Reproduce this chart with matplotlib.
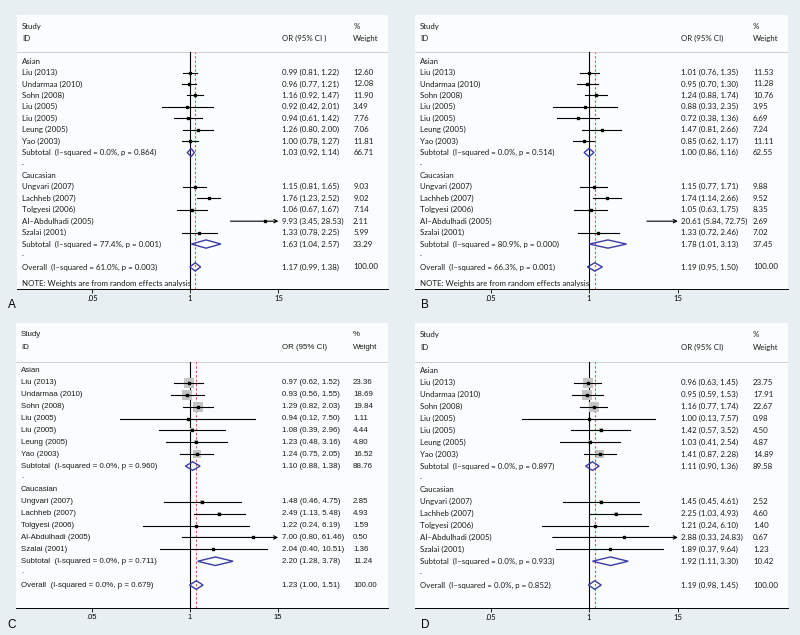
"""Forest plots A-D: OR by ethnicity subgroup (Asian / Caucasian)
"""
import matplotlib.pyplot as plt
from matplotlib.transforms import blended_transform_factory
from matplotlib.ticker import NullLocator

names_asian = ["Liu (2013)", "Undarmaa (2010)", "Sohn (2008)", "Liu (2005)",
               "Liu (2005)", "Leung (2005)", "Yao (2003)"]
names_cauc = ["Ungvari (2007)", "Lachheb (2007)", "Tolgyesi (2006)",
              "Al-Abdulhadi (2005)", "Szalai (2001)"]

# panel A
a_or_asian = [0.99, 0.96, 1.16, 0.92, 0.94, 1.26, 1.00]
a_lo_asian = [0.81, 0.77, 0.92, 0.42, 0.61, 0.80, 0.78]
a_hi_asian = [1.22, 1.21, 1.47, 2.01, 1.42, 2.00, 1.27]
a_w_asian = [12.60, 12.08, 11.90, 3.49, 7.76, 7.06, 11.81]
a_or_cauc = [1.15, 1.76, 1.06, 9.93, 1.33]
a_lo_cauc = [0.81, 1.23, 0.67, 3.45, 0.78]
a_hi_cauc = [1.65, 2.52, 1.67, 28.53, 2.25]
a_w_cauc = [9.03, 9.02, 7.14, 2.11, 5.99]
a_sub = [(1.03, 0.92, 1.14, 66.71, "0.0%", "0.864"),
         (1.63, 1.04, 2.57, 33.29, "77.4%", "0.001")]
a_overall = (1.17, 0.99, 1.38, 100.00, "61.0%", "0.003")

# panel B
b_or_asian = [1.01, 0.95, 1.24, 0.88, 0.72, 1.47, 0.85]
b_lo_asian = [0.76, 0.70, 0.88, 0.33, 0.38, 0.81, 0.62]
b_hi_asian = [1.35, 1.30, 1.74, 2.35, 1.36, 2.66, 1.17]
b_w_asian = [11.53, 11.28, 10.76, 3.95, 6.69, 7.24, 11.11]
b_or_cauc = [1.15, 1.74, 1.05, 20.61, 1.33]
b_lo_cauc = [0.77, 1.14, 0.63, 5.84, 0.72]
b_hi_cauc = [1.71, 2.66, 1.75, 72.75, 2.46]
b_w_cauc = [9.88, 9.52, 8.35, 2.69, 7.02]
b_sub = [(1.00, 0.86, 1.16, 62.55, "0.0%", "0.514"),
         (1.78, 1.01, 3.13, 37.45, "80.9%", "0.000")]
b_overall = (1.19, 0.95, 1.50, 100.00, "66.3%", "0.001")

# panel C
c_or_asian = [0.97, 0.93, 1.29, 0.94, 1.08, 1.23, 1.24]
c_lo_asian = [0.62, 0.56, 0.82, 0.12, 0.39, 0.48, 0.75]
c_hi_asian = [1.52, 1.55, 2.03, 7.50, 2.96, 3.16, 2.05]
c_w_asian = [23.36, 18.69, 19.84, 1.11, 4.44, 4.80, 16.52]
c_or_cauc = [1.48, 2.49, 1.22, 7.00, 2.04]
c_lo_cauc = [0.46, 1.13, 0.24, 0.80, 0.40]
c_hi_cauc = [4.75, 5.48, 6.19, 61.46, 10.51]
c_w_cauc = [2.85, 4.93, 1.59, 0.50, 1.36]
c_sub = [(1.10, 0.88, 1.38, 88.76, "0.0%", "0.960"),
         (2.20, 1.28, 3.78, 11.24, "0.0%", "0.711")]
c_overall = (1.23, 1.00, 1.51, 100.00, "0.0%", "0.679")

# panel D
d_or_asian = [0.96, 0.95, 1.16, 1.00, 1.42, 1.03, 1.41]
d_lo_asian = [0.63, 0.59, 0.77, 0.13, 0.57, 0.41, 0.87]
d_hi_asian = [1.45, 1.53, 1.74, 7.57, 3.52, 2.54, 2.28]
d_w_asian = [23.75, 17.91, 22.67, 0.98, 4.50, 4.87, 14.89]
d_or_cauc = [1.45, 2.25, 1.21, 2.88, 1.89]
d_lo_cauc = [0.45, 1.03, 0.24, 0.33, 0.37]
d_hi_cauc = [4.61, 4.93, 6.10, 24.83, 9.64]
d_w_cauc = [2.52, 4.60, 1.40, 0.67, 1.23]
d_sub = [(1.11, 0.90, 1.36, 89.58, "0.0%", "0.897"),
         (1.92, 1.11, 3.30, 10.42, "0.0%", "0.933")]
d_overall = (1.19, 0.98, 1.45, 100.00, "0.0%", "0.852")

tick_vals = [0.05, 1, 15]
tick_labels = [".05", "1", "15"]
XMIN, XMAX = 0.05, 15
BG = "#e7eff3"
DIAMOND = "#3b3ba6"
RED = "#d9534f"


def draw_panel(ax, studies, subs, overall, fam, boxes, note, ci_head, dash):
    ax.set_xscale("log")
    ax.set_xlim(10 ** -2.305, 10 ** 2.635)
    ax.set_ylim(19.93, -4.03)
    ax.set_facecolor("#fbfcfd")
    for s in ["top", "left", "right"]:
        ax.spines[s].set_visible(False)
    ax.spines["bottom"].set_linewidth(0.7)
    ax.set_xticks(tick_vals)
    ax.set_xticklabels(tick_labels, family=fam)
    ax.xaxis.set_minor_locator(NullLocator())
    ax.set_yticks([])
    ax.tick_params(axis="x", length=3, width=0.6, labelsize=5.5, pad=1.5)
    tr = blended_transform_factory(ax.transAxes, ax.transData)
    fs = 5.7
    tx = dict(transform=tr, fontsize=fs, family=fam, va="center", color="#1a1a1a")

    ax.text(0.013, -3.05, "Study", **tx)
    ax.text(0.013, -2.0, "ID", **tx)
    ax.text(0.714, -2.0, ci_head, **tx)
    ax.text(0.906, -3.05, "%", **tx)
    ax.text(0.906, -2.0, "Weight", **tx)
    ax.plot([0, 1], [-0.78, -0.78], transform=tr, color="#c8c8c8", lw=0.6)

    ax.axvline(1, ymin=0, ymax=(19.93 + 0.78) / 23.96, color="k", lw=0.8)
    ax.axvline(overall[0], ymin=0, ymax=(19.93 + 0.78) / 23.96, color=RED,
               lw=0.8, ls=(0, (2, 2)))

    row = 0
    for g, (grp, (ors, los, his, ws, names)) in enumerate(studies):
        ax.text(0.013, row, grp, **tx)
        row += 1
        for o, lo, hi, w, nm in zip(ors, los, his, ws, names):
            nm = nm.replace("-", dash)
            if boxes:
                ax.scatter([o], [row], s=w * 2.4, marker="s", color="#c4c4c4",
                           linewidths=0, zorder=2)
            left, right = max(lo, XMIN), min(hi, XMAX)
            if hi > XMAX:
                ax.annotate("", xy=(XMAX, row), xytext=(left, row),
                            arrowprops=dict(arrowstyle="->", lw=0.8, color="k",
                                            mutation_scale=6, shrinkA=0, shrinkB=0),
                            zorder=3)
            else:
                ax.plot([left, right], [row, row], color="k", lw=0.8, zorder=3)
            if o <= XMAX:
                ax.plot([o], [row], marker="s", ms=1.6, color="k", zorder=4)
            ax.text(0.013, row, nm, **tx)
            ax.text(0.714, row, f"{o:.2f} ({lo:.2f}, {hi:.2f})", **tx)
            ax.text(0.906, row, f"{w:.2f}", **tx)
            row += 1
        so, slo, shi, sw, i2, p = subs[g]
        ax.fill([slo, so, shi, so], [row, row - 0.36, row, row + 0.36],
                facecolor="none", edgecolor=DIAMOND, lw=1.0, zorder=5)
        ax.text(0.013, row, f"Subtotal  (I{dash}squared = {i2}, p = {p})", **tx)
        ax.text(0.714, row, f"{so:.2f} ({slo:.2f}, {shi:.2f})", **tx)
        ax.text(0.906, row, f"{sw:.2f}", **tx)
        row += 1
        ax.text(0.013, row - 0.15, ".", **tx)
        row += 1

    oo, olo, ohi, ow, i2, p = overall
    ax.fill([olo, oo, ohi, oo], [row, row - 0.36, row, row + 0.36],
            facecolor="none", edgecolor=DIAMOND, lw=1.0, zorder=5)
    ax.text(0.013, row, f"Overall  (I{dash}squared = {i2}, p = {p})", **tx)
    ax.text(0.714, row, f"{oo:.2f} ({olo:.2f}, {ohi:.2f})", **tx)
    ax.text(0.906, row, f"{ow:.2f}", **tx)
    if note:
        ax.text(0.013, 19.45, "NOTE: Weights are from random effects analysis", **tx)


fig = plt.figure(figsize=(8, 6.35), dpi=100, facecolor=BG)


def add_ax(left, top, right, bottom):
    return fig.add_axes([left / 800, 1 - bottom / 635, (right - left) / 800,
                         (bottom - top) / 635])


panels = [
    ("A", (17, 15, 388, 289), (8, 305),
     [("Asian", (a_or_asian, a_lo_asian, a_hi_asian, a_w_asian, names_asian)),
      ("Caucasian", (a_or_cauc, a_lo_cauc, a_hi_cauc, a_w_cauc, names_cauc))],
     a_sub, a_overall, "Lato", False, True, "OR (95% CI )", "\u2013"),
    ("B", (415, 15, 788, 289), (421, 305),
     [("Asian", (b_or_asian, b_lo_asian, b_hi_asian, b_w_asian, names_asian)),
      ("Caucasian", (b_or_cauc, b_lo_cauc, b_hi_cauc, b_w_cauc, names_cauc))],
     b_sub, b_overall, "Lato", False, True, "OR (95% CI)", "\u2013"),
    ("C", (16, 323, 388, 608), (7, 625),
     [("Asian", (c_or_asian, c_lo_asian, c_hi_asian, c_w_asian, names_asian)),
      ("Caucasian", (c_or_cauc, c_lo_cauc, c_hi_cauc, c_w_cauc, names_cauc))],
     c_sub, c_overall, "Liberation Sans", True, False, "OR (95% CI)", "-"),
    ("D", (415, 323, 788, 608), (421, 625),
     [("Asian", (d_or_asian, d_lo_asian, d_hi_asian, d_w_asian, names_asian)),
      ("Caucasian", (d_or_cauc, d_lo_cauc, d_hi_cauc, d_w_cauc, names_cauc))],
     d_sub, d_overall, "Lato", True, False, "OR (95% CI)", "\u2013"),
]

for label, box, lpos, studies, subs, overall, fam, boxes, note, head, dash in panels:
    ax = add_ax(*box)
    draw_panel(ax, studies, subs, overall, fam, boxes, note, head, dash)
    fig.text(lpos[0] / 800, 1 - lpos[1] / 635, label, fontsize=8.5,
             family="Liberation Sans", va="center", ha="left")

plt.savefig("out.png", dpi=100, facecolor=BG)
